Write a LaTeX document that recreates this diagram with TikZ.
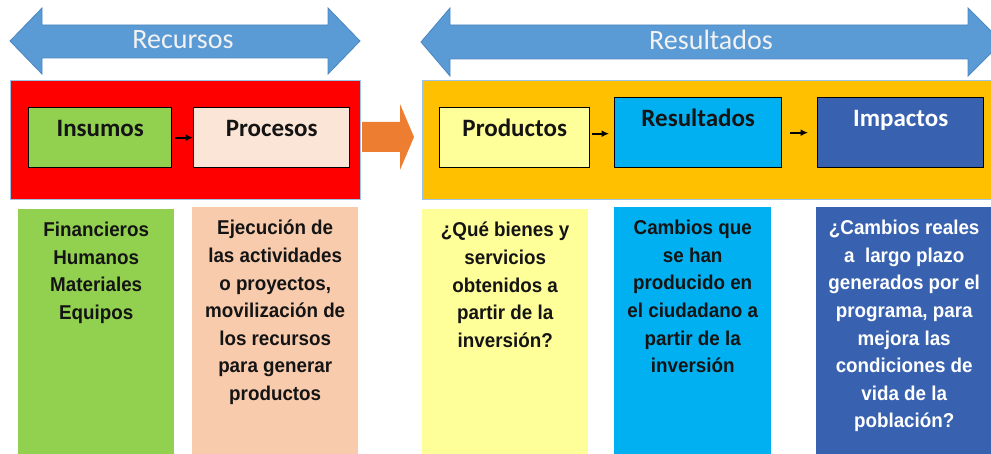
\documentclass[tikz,border=0pt]{standalone}
\usepackage{fontspec}
\setmainfont{Carlito}
\newfontfamily\narrowfont[FakeStretch=0.94]{Liberation Sans}
\usetikzlibrary{arrows.meta, positioning}

\definecolor{bandblue}{HTML}{5B9BD5}
\definecolor{bandedge}{HTML}{4A86C0}
\definecolor{bandtextcol}{HTML}{F2F2F2}
\definecolor{groupedge}{HTML}{9DC3E6}
\definecolor{redgroup}{HTML}{FF0000}
\definecolor{ambergroup}{HTML}{FFC000}
\definecolor{insgreen}{HTML}{92D050}
\definecolor{procpeach}{HTML}{FBE5D6}
\definecolor{peachcol}{HTML}{F8CBAD}
\definecolor{prodyellow}{HTML}{FFFF99}
\definecolor{rescyan}{HTML}{00B0F0}
\definecolor{impblue}{HTML}{3862B0}
\definecolor{flowarrow}{HTML}{ED7D31}
\definecolor{inkdark}{HTML}{141414}

\begin{document}
\begin{tikzpicture}[x=1pt, y=-1pt,
    group/.style={draw=groupedge, line width=1.2pt, anchor=north west, inner sep=0pt, minimum height=119pt},
    stage/.style={draw=black, line width=1.4pt, anchor=north west, inner sep=0pt},
    stagetext/.style={anchor=base, yshift=-30pt, text=inkdark, font=\fontsize{25}{29}\selectfont\bfseries},
    column/.style={anchor=north west, inner sep=0pt, minimum height=260pt},
    coltext/.style={anchor=north, yshift=-13pt, align=center, inner sep=0pt, text=inkdark, font=\narrowfont\bfseries\fontsize{20}{27.6}\selectfont},
    flow/.style={-{Latex[length=7.5pt,width=7pt]}, line width=1.7pt},
    band/.style={fill=bandblue, draw=bandedge, line width=0.8pt},
    bandtext/.style={anchor=base, text=bandtextcol, font=\fontsize{28}{32}\selectfont}]
    \useasboundingbox (0,0) rectangle (991,454);
    \clip (0,0) rectangle (991,454);

    % Double arrows on top
    \draw[band] (10,41) -- (42,8) -- (42,25) -- (328,25) -- (328,8) -- (360,41)
        -- (328,74) -- (328,58) -- (42,58) -- (42,74) -- cycle;
    \draw[band] (421,42) -- (450,8) -- (450,25) -- (968,25) -- (968,8) -- (1002,42)
        -- (968,76) -- (968,59) -- (450,59) -- (450,76) -- cycle;
    \node[bandtext] (recband) at (183,49) {Recursos};
    \node[bandtext] (resband) at (711,50) {Resultados};

    % Group boxes
    \node[group, fill=redgroup, minimum width=350pt] (recgroup) at (10,80) {};
    \node[group, fill=ambergroup, minimum width=580pt] (resgroup) at (422,80) {};

    % Orange arrow between groups
    \fill[flowarrow] (362,122) -- (400,122) -- (400,104) -- (414,137)
        -- (400,170) -- (400,152) -- (362,152) -- cycle;

    % Stage boxes
    \node[stage, fill=insgreen, minimum width=143pt, minimum height=60pt,
        label={[stagetext]north:Insumos}] (ins) at (28,107) {};
    \node[stage, fill=procpeach, minimum width=156pt, minimum height=60pt,
        label={[stagetext]north:Procesos}] (proc) at (193,107) {};
    \node[stage, fill=prodyellow, minimum width=150pt, minimum height=60pt,
        label={[stagetext]north:Productos}] (prod) at (439,107) {};
    \node[stage, fill=rescyan, minimum width=167pt, minimum height=70pt,
        label={[stagetext]north:Resultados}] (res) at (614,97) {};
    \node[stage, fill=impblue, minimum width=166pt, minimum height=70pt,
        label={[stagetext, text=white]north:Impactos}] (imp) at (817,97) {};

    % Arrows
    \draw[flow, shorten <=3pt] (ins) -- (proc);
    \draw[flow, shorten <=2pt, shorten >=5pt] ([yshift=4pt]prod.east) -- ([yshift=4pt]prod.east -| res.west);
    \draw[flow, shorten <=8pt, shorten >=9pt] (res) -- (imp);

    % Columns
    \node[column, fill=insgreen, minimum width=156pt,
        label={[coltext]north:{Financieros\\Humanos\\Materiales\\Equipos}}] (fin) at (18,209) {};
    \node[column, fill=peachcol, minimum width=166pt,
        label={[coltext]north:{Ejecución de\\las actividades\\o proyectos,\\movilización de\\los recursos\\para generar\\productos}}] (ejec) at (192,207) {};
    \node[column, fill=prodyellow, minimum width=166pt,
        label={[coltext]north:{¿Qué bienes y\\servicios\\obtenidos a\\partir de la\\inversión?}}] (bienes) at (422,209) {};
    \node[column, fill=rescyan, minimum width=157pt,
        label={[coltext]north:{Cambios que\\se han\\producido en\\el ciudadano a\\partir de la\\inversión}}] (cambios) at (614,207) {};
    \node[column, fill=impblue, minimum width=176pt,
        label={[coltext, text=white]north:{¿Cambios reales\\a~ largo plazo\\generados por el\\programa, para\\mejora las\\condiciones de\\vida de la\\población?}}] (reales) at (816,207) {};
\end{tikzpicture}
\end{document}
